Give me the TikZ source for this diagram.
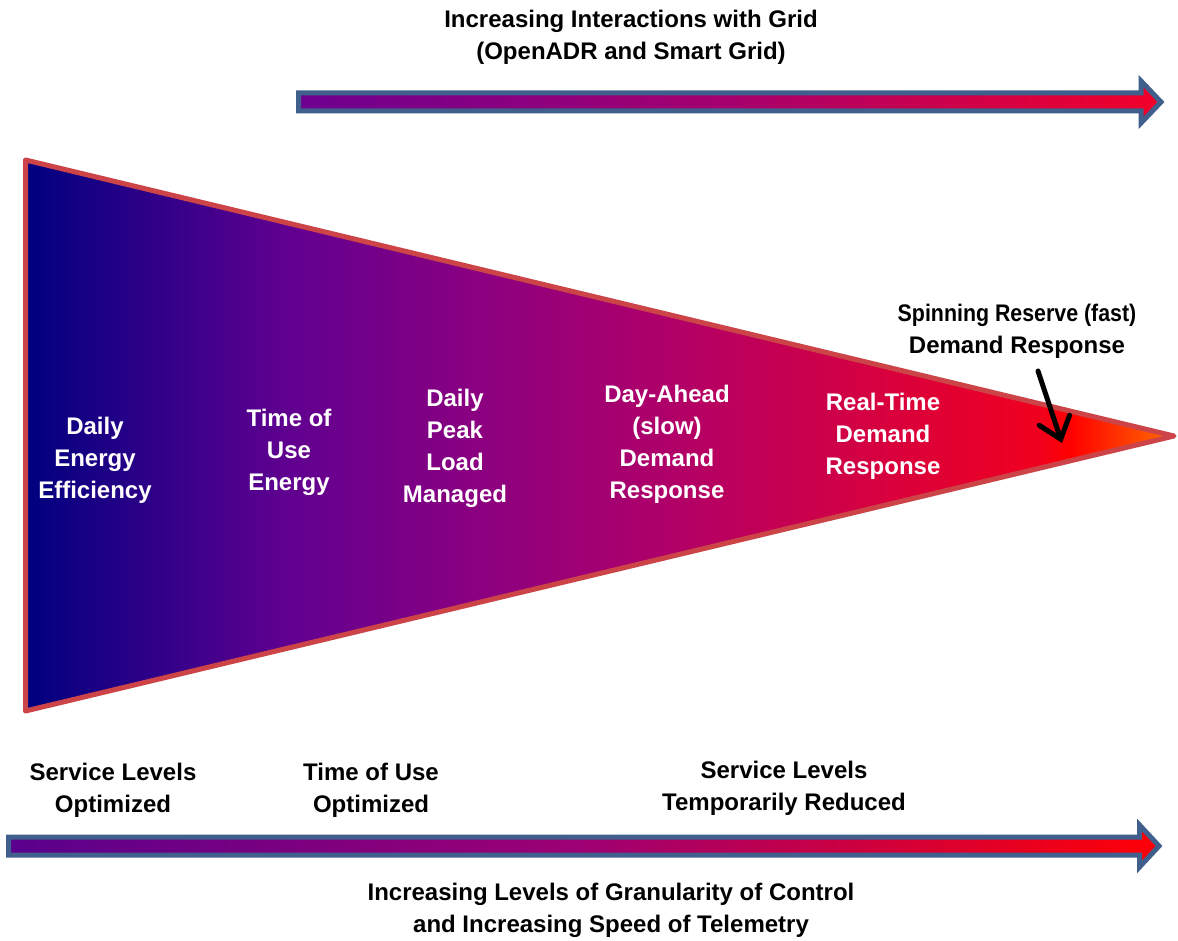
\documentclass[tikz,border=0pt]{standalone}
\usepackage{fontspec}
\setmainfont{Liberation Sans}
\usetikzlibrary{arrows.meta}

% colour ramps: navy -> purple -> red -> orange
% (TikZ maps a path's bounding box onto the 25bp..75bp band of a shading)
\pgfdeclarehorizontalshading{fanramp}{100bp}{%
  rgb(0bp)=(0,0,0.50);
  rgb(25bp)=(0,0,0.50);
  rgb(36.5bp)=(0.38,0,0.565);
  rgb(45bp)=(0.55,0,0.50);
  rgb(53bp)=(0.69,0,0.41);
  rgb(62bp)=(0.84,0,0.25);
  rgb(69bp)=(0.94,0,0.125);
  rgb(70.5bp)=(1,0,0);
  rgb(75bp)=(1,0.43,0);
  rgb(100bp)=(1,0.43,0)}
\pgfdeclarehorizontalshading{toparrow}{100bp}{%
  rgb(0bp)=(0.43,0,0.565);
  rgb(25bp)=(0.43,0,0.565);
  rgb(50bp)=(0.65,0,0.43);
  rgb(75bp)=(0.95,0,0.16);
  rgb(100bp)=(0.95,0,0.16)}
\pgfdeclarehorizontalshading{botarrow}{100bp}{%
  rgb(0bp)=(0.35,0,0.55);
  rgb(25bp)=(0.35,0,0.55);
  rgb(50bp)=(0.62,0,0.45);
  rgb(75bp)=(1,0,0.02);
  rgb(100bp)=(1,0,0.02)}

\definecolor{arrowedge}{RGB}{65,95,140}
\definecolor{fanedge}{RGB}{204,68,72}

\begin{document}
\begin{tikzpicture}[x=1pt,y=-1pt,
  every node/.style={font=\fontsize{24}{32}\selectfont\bfseries, align=center, inner sep=0pt},
  darktext/.style={text=black},
  lighttext/.style={text=white},
  blockarrow/.style={draw=arrowedge, line width=5pt, line join=miter},
  fan/.style={draw=fanedge, line width=5pt, line join=round, shading=fanramp},
  pointer/.style={draw=black, line width=5pt, line cap=round,
    -{Straight Barb[length=20pt,width=32pt,line cap=round]}}]
\useasboundingbox (0,0) rectangle (1178,941);

% upper block arrow
\path[blockarrow, shading=toparrow]
  (298.5,93) -- (1141,93) -- (1141,81) -- (1161,102) -- (1141,123) -- (1141,111) -- (298.5,111) -- cycle;

% the fan
\path[fan] (25.5,160) -- (1174,436) -- (25.5,711) -- cycle;

% lower block arrow
\path[blockarrow, shading=botarrow]
  (8.5,837) -- (1139.5,837) -- (1139.5,825) -- (1159,846) -- (1139.5,867) -- (1139.5,855) -- (8.5,855) -- cycle;

% titles
\node[darktext] (grid) at (631,37) {Increasing Interactions with Grid\\(OpenADR and Smart Grid)};
\node[darktext] (granular) at (611,910) {Increasing Levels of Granularity of Control\\and Increasing Speed of Telemetry};

% stages along the fan
\node[lighttext] (eff) at (95,460) {Daily\\Energy\\Efficiency};
\node[lighttext] (tou) at (289,452) {Time of\\Use\\Energy};
\node[lighttext] (peak) at (455,448) {Daily\\Peak\\Load\\Managed};
\node[lighttext] (dayahead) at (667,444) {Day-Ahead\\(slow)\\Demand\\Response};
\node[lighttext] (realtime) at (883,436) {Real-Time\\Demand\\Response};
\node[darktext] (spin) at (1017,331) {\scalebox{0.89}[1]{Spinning Reserve (fast)}\\Demand Response};

% service levels
\node[darktext] (svcopt) at (113,790) {Service Levels\\Optimized};
\node[darktext] (touopt) at (371,790) {Time of Use\\Optimized};
\node[darktext] (svcred) at (784,788) {Service Levels\\Temporarily Reduced};

% pointer to the tip of the fan
\coordinate (spinfrom) at (1038,371);
\coordinate (spinto) at (1062,443);
\draw[pointer] (spinfrom) -- (spinto);
\end{tikzpicture}
\end{document}
